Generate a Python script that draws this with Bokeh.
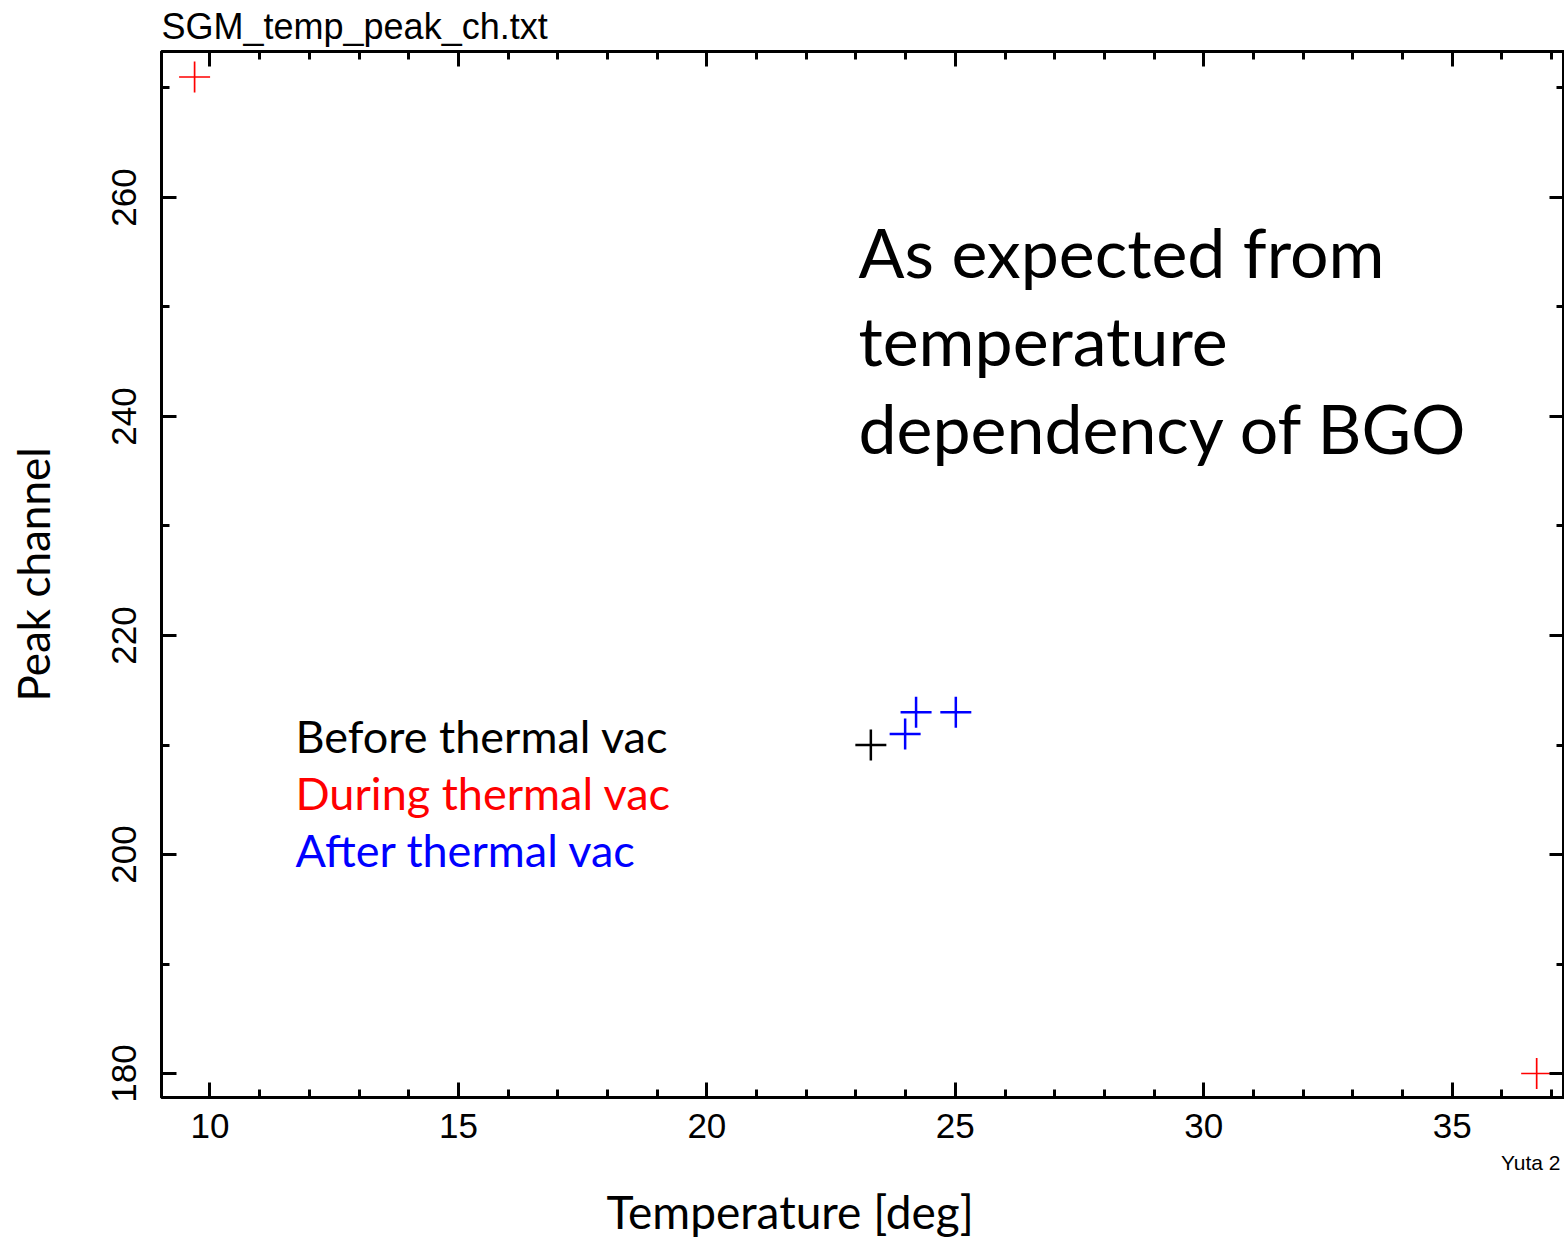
import numpy as np
from bokeh.plotting import figure
from bokeh.models import Range1d, LinearAxis, SingleIntervalTicker, Label, Title
from bokeh.embed import file_html
from bokeh.resources import INLINE

# ---- data ----
before_temp = [23.30]
before_peak = [210]
during_temp = [9.69, 36.70]
during_peak = [271, 180]
after_temp = [23.99, 24.21, 25.01]
after_peak = [211, 213, 213]

title_text = "SGM_temp_peak_ch.txt"
x_label = "Temperature [deg]"
y_label = "Peak channel"
note_lines = ["As expected from", "temperature", "dependency of BGO"]
legend_names = ["Before thermal vac", "During thermal vac", "After thermal vac"]
legend_colors = ["black", "red", "blue"]
footer_text = "Yuta 2"

# ---- layout ----
W, H = 1564, 1248
FL, FR, FT, FB = 161, 1564, 51, 1097
X0, X1 = 9.024, 37.26
Y0, Y1 = 177.81, 273.33
K = 0.4  # empirical baseline correction (fraction of font size)


def dx(px):
    return X0 + (px - FL) / (FR - FL) * (X1 - X0)


def dy(py):
    return Y0 + (FB - py) / (FB - FT) * (Y1 - Y0)


p = figure(width=W, height=H, output_backend="svg", toolbar_location=None,
           x_range=Range1d(X0, X1), y_range=Range1d(Y0, Y1),
           x_axis_location=None, y_axis_location=None,
           min_border_left=FL, min_border_right=0,
           min_border_top=FT, min_border_bottom=H - FB)
p.grid.visible = False
p.outline_line_color = "black"
p.outline_line_width = 3
p.background_fill_color = "white"
p.border_fill_color = "white"


def make_axis(interval, minor, labels, standoff=10, orient="horizontal"):
    ax = LinearAxis(ticker=SingleIntervalTicker(interval=interval, num_minor_ticks=minor))
    ax.axis_line_color = "black"
    ax.axis_line_width = 3
    ax.major_tick_line_color = "black"
    ax.minor_tick_line_color = "black"
    ax.major_tick_line_width = 3
    ax.minor_tick_line_width = 3
    ax.major_tick_in = 15
    ax.major_tick_out = 0
    ax.minor_tick_in = 8
    ax.minor_tick_out = 0
    ax.major_label_text_font = "Liberation Sans"
    ax.major_label_text_color = "black"
    if labels:
        ax.major_label_text_font_size = "35px"
        ax.major_label_standoff = standoff
        ax.major_label_orientation = orient
    else:
        ax.major_label_text_font_size = "0px"
        ax.major_label_text_alpha = 0
        ax.major_label_standoff = 0
    return ax


bottom_axis = make_axis(5, 5, True, standoff=16)
left_axis = make_axis(20, 2, True, standoff=25, orient="vertical")
left_axis.axis_label = y_label
left_axis.axis_label_text_font = "Lato"
left_axis.axis_label_text_font_size = "44px"
left_axis.axis_label_text_font_style = "normal"
left_axis.axis_label_text_color = "black"
left_axis.axis_label_standoff = 51

p.add_layout(bottom_axis, "below")
p.add_layout(make_axis(5, 5, False), "above")
p.add_layout(left_axis, "left")
p.add_layout(make_axis(20, 2, False), "right")

# title above the frame, aligned with the frame's left edge
p.add_layout(Title(text=title_text, align="left", offset=0, standoff=6,
                   vertical_align="top",
                   text_font="Liberation Sans", text_font_size="36px",
                   text_font_style="normal", text_color="black"), "above")
# footer and x axis label below
p.add_layout(Title(text=footer_text, align="right", offset=4, standoff=16,
                   text_font="Liberation Sans", text_font_size="21px",
                   text_font_style="normal", text_color="black"), "below")
p.add_layout(Title(text=x_label, align="left", offset=606 - FL, standoff=0,
                   text_font="Lato", text_font_size="46px",
                   text_font_style="normal", text_color="black"), "below")

# ---- markers ----
p.scatter(before_temp, before_peak, marker="cross", size=31,
          line_color="black", line_width=2.5)
p.scatter(during_temp, during_peak, marker="cross", size=31,
          line_color="red", line_width=1.7)
p.scatter(after_temp, after_peak, marker="cross", size=31,
          line_color="blue", line_width=2.5)


# ---- texts inside the frame ----
def add_text(px, py, text, font, fs, color="black"):
    py = py - K * fs
    p.add_layout(Label(x=dx(px), y=dy(py), text=text,
                       text_font=font, text_font_size=f"{fs}px",
                       text_color=color, text_baseline="alphabetic"))


for i, line in enumerate(note_lines):
    add_text(858, 278 + 88 * i, line, "Lato", 68)

for i, (name, col) in enumerate(zip(legend_names, legend_colors)):
    add_text(295, 753 + 57 * i, name, "Lato", 45, color=col)

open("out.html", "w").write(file_html(p, INLINE))
